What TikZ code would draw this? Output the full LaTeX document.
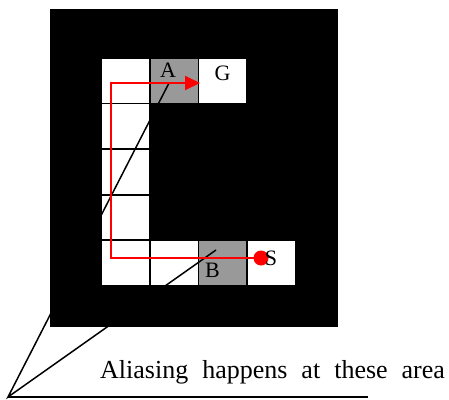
\documentclass[tikz,border=0pt]{standalone}
\usepackage{fontspec}
\setmainfont{Liberation Serif}
\usetikzlibrary{arrows.meta}
\definecolor{cellgray}{RGB}{153,153,153}
\begin{document}
\begin{tikzpicture}[x=1pt, y=-1pt,
		cell/.style={draw=black, line width=1.8pt, minimum width=48.5pt, minimum height=45.6pt, inner sep=0pt, anchor=north west},
		free/.style={cell, fill=white},
		lit/.style={cell, fill=cellgray},
		lbl/.style={font=\fontsize{22}{24}\selectfont, inner sep=0pt, anchor=base},
		route/.style={red, line width=2pt},
		callout/.style={black, line width=1.5pt}]
	\useasboundingbox (0,0) rectangle (449,399);
	
	% ==================== walls ====================
	\fill[black] (50,9) rectangle (338,327);
	
	% ==================== free cells ====================
	% left column
	\foreach \r in {0,...,4}
		\node[free] (w\r) at (100.5, {57+\r*45.6}) {};
	% top row
	\node[lit] (cA) at (149,57) {};
	\node[free] (cG) at (197.5,57) {};
	% bottom row
	\node[free] (cC) at (149,239.4) {};
	\node[lit] (cB) at (197.5,239.4) {};
	\node[free] (cS) at (246,239.4) {};
	
	% ==================== aliasing call-out ====================
	\coordinate (apex) at (8,397);
	\coordinate (hitA) at (169,83);
	\coordinate (hitB) at (216,250);
	\coordinate (rule) at (368,397);
	\draw[callout] (hitA) -- (apex) -- (hitB);
	\draw[callout] (apex) -- (rule);
	
	% ==================== route from S to G ====================
	\coordinate (start) at (261,258);
	\coordinate (bend) at (111,83);
	\coordinate (goal) at (200,83);
	\draw[route, -{Triangle[length=15pt, width=14pt]}] (start) -| (bend) -- (goal);
	\fill[red] (start) circle (7.5pt);
	
	% ==================== labels ====================
	\node[lbl] (lA) at (168,77.5) {A};
	\node[lbl] (lG) at (222.5,80) {G};
	\node[lbl] (lB) at (212.5,277) {B};
	\node[lbl] (lS) at (271,265) {S};
	
	\node[anchor=base west, inner sep=0pt, font=\fontsize{26}{30}\selectfont] (note) at (100,378) {\spaceskip=14pt\relax Aliasing happens at these area};
\end{tikzpicture}
\end{document}
